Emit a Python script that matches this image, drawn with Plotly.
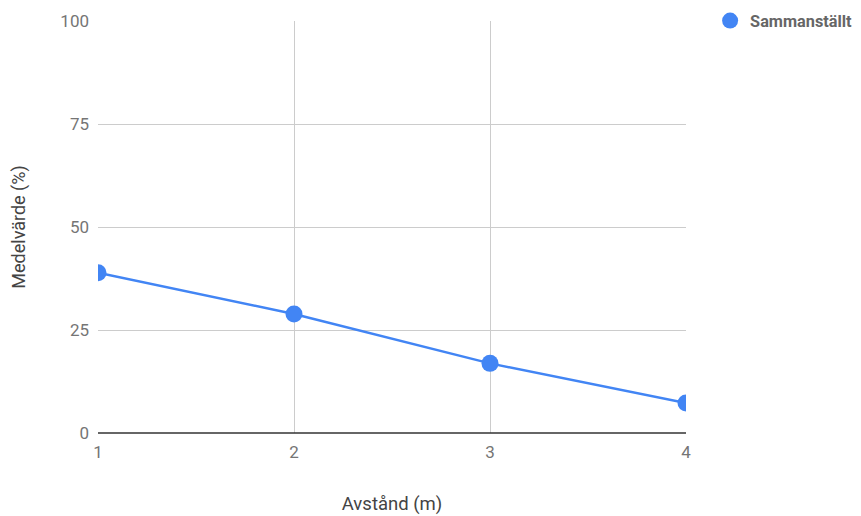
import plotly.graph_objects as go

avstand = [1, 2, 3, 4]
medelvarde = [38.9, 28.9, 16.9, 7.3]
series_name = "Sammanställt"

fig = go.Figure()
fig.add_trace(go.Scatter(
    x=avstand, y=medelvarde, mode="lines+markers", name=series_name,
    line=dict(color="#4285F4", width=2.5),
    marker=dict(color="#4285F4", size=17),
    cliponaxis=True, showlegend=False,
))
# legend entry shows only the marker
fig.add_trace(go.Scatter(
    x=[None], y=[None], mode="markers", name=series_name,
    marker=dict(color="#4285F4", size=18), showlegend=True,
))

fig.update_layout(
    width=853, height=508,
    margin=dict(l=90, r=175, t=13, b=83, autoexpand=False),
    plot_bgcolor="white", paper_bgcolor="white",
    font=dict(family="Roboto", size=17, color="#757575"),
    showlegend=True,
    legend=dict(x=1.041, y=1.0, xanchor="left", yanchor="middle",
                font=dict(family="Roboto", size=16.3, color="#666666", weight="bold"),
                borderwidth=0, bgcolor="rgba(0,0,0,0)"),
    xaxis=dict(
        range=[1, 4], tickvals=[1, 2, 3, 4], showgrid=True, gridcolor="#cccccc",
        zeroline=False, showline=False, ticks="", ticklabelstandoff=7,
        title=dict(text="Avstånd (m)", font=dict(size=18.5, color="#444444"), standoff=36),
    ),
    yaxis=dict(
        range=[0, 100], tickvals=[0, 25, 50, 75, 100], showgrid=True, gridcolor="#cccccc",
        zeroline=False, showline=False, ticks="", ticklabelstandoff=8,
        title=dict(text="Medelvärde (%)", font=dict(size=18, color="#444444"), standoff=32),
    ),
)
fig.add_shape(type="line", xref="paper", yref="paper", x0=0, x1=1, y0=0, y1=0,
              line=dict(color="#333333", width=1.5))
fig.write_html("out.html")
